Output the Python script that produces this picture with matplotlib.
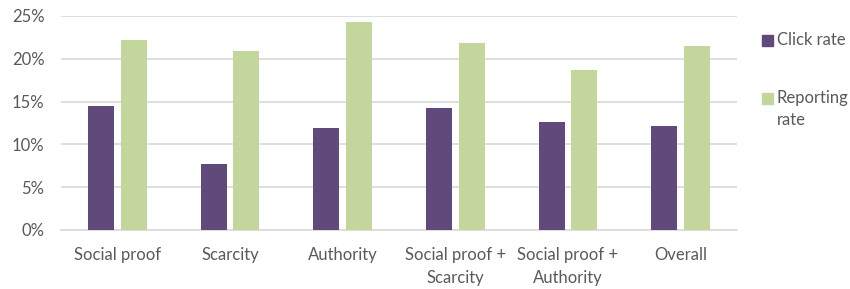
import matplotlib
matplotlib.use("Agg")
import matplotlib.pyplot as plt
from matplotlib.patches import Rectangle
import numpy as np

categories = ["Social proof", "Scarcity", "Authority",
              "Social proof +\nScarcity", "Social proof +\nAuthority", "Overall"]
click_rate = [14.5, 7.7, 11.9, 14.2, 12.6, 12.2]
reporting_rate = [22.2, 20.9, 24.3, 21.8, 18.7, 21.5]
y_ticks = [0, 5, 10, 15, 20, 25]

PURPLE = "#604A7B"
GREEN = "#C3D69B"
TEXT = "#595959"
GRID = "#D9D9D9"
FS = 12

plt.rcParams["font.family"] = ["Lato", "DejaVu Sans"]

fig = plt.figure(figsize=(8.5, 2.89), dpi=100)
ax = fig.add_axes([61 / 850, 1 - 230 / 289, 676 / 850, 214 / 289])

x = np.arange(len(categories))
w = 0.23
gap = 0.06
ax.bar(x - (w + gap) / 2, click_rate, width=w, color=PURPLE, zorder=3)
ax.bar(x + (w + gap) / 2, reporting_rate, width=w, color=GREEN, zorder=3)

ax.set_xlim(-0.5, len(categories) - 0.5)
ax.set_ylim(0, 25)
ax.set_yticks(y_ticks)
ax.set_yticklabels([f"{t}%" for t in y_ticks])
ax.set_xticks(x)
ax.set_xticklabels(categories, linespacing=1.55)
ax.yaxis.grid(True, color=GRID, lw=1.2, zorder=0)
ax.tick_params(axis="both", length=0, colors=TEXT, labelsize=FS)
ax.tick_params(axis="x", pad=12)
ax.tick_params(axis="y", pad=12)
for s in ["top", "right", "left"]:
    ax.spines[s].set_visible(False)
ax.spines["bottom"].set_color(GRID)
ax.spines["bottom"].set_linewidth(1.2)

# legend, drawn by hand so it can run off the right edge like the original
for y, color, label in [(41, PURPLE, "Click rate"), (99, GREEN, "Reporting\nrate")]:
    fig.patches.append(Rectangle((762 / 850, 1 - (y + 5) / 289), 11 / 850, 11 / 289,
                                 transform=fig.transFigure, color=color))
    fig.text(777 / 850, 1 - (y - 9) / 289, label, color=TEXT, fontsize=FS,
             va="top", ha="left", linespacing=1.45)

fig.savefig("out.png", dpi=100)
